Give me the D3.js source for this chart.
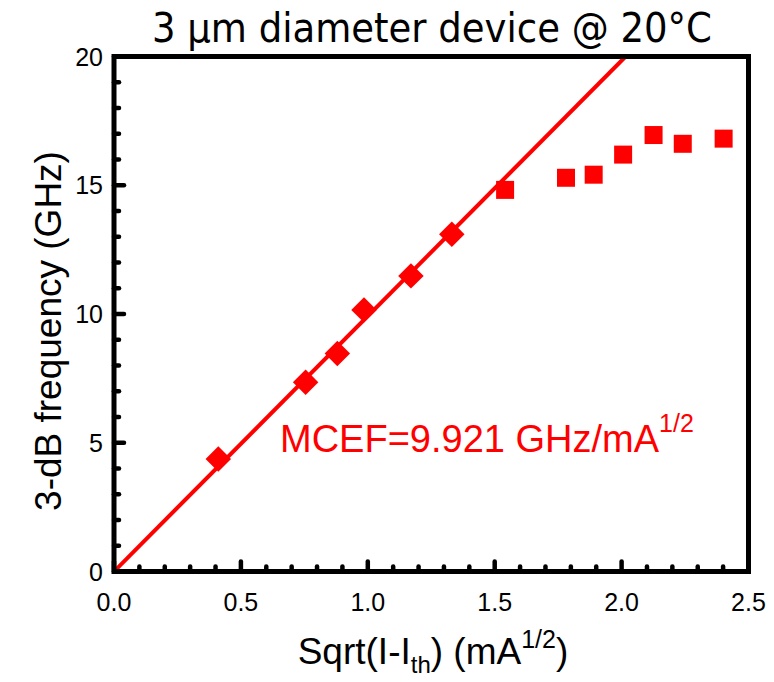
<!DOCTYPE html>
<html><head><meta charset="utf-8">
<script src="https://cdn.jsdelivr.net/npm/d3@7"></script>
<style>body{margin:0;background:#fff}svg{display:block}text{font-family:"Liberation Sans",Arial,sans-serif}</style>
</head><body>
<script>
const fitX = [0.411, 0.755, 0.880, 0.985, 1.170, 1.331];
const fitY = [4.37, 7.35, 8.47, 10.16, 11.48, 13.10];
const satX = [1.541, 1.781, 1.890, 2.006, 2.126, 2.241, 2.402];
const satY = [14.82, 15.29, 15.41, 16.19, 16.95, 16.61, 16.81];
const slope = 9.921;
const xTicks = [0.0, 0.5, 1.0, 1.5, 2.0, 2.5];
const yTicks = [0, 5, 10, 15, 20];
const titleText = "3 \u03bcm diameter device @ 20\u00b0C";

const W = 774, H = 682;
const L = 114, R = 748.5, T = 56.5, B = 571.5;
const svg = d3.select("body").append("svg").attr("width", W).attr("height", H);
const x = d3.scaleLinear().domain([0, 2.5]).range([L, R]);
const y = d3.scaleLinear().domain([0, 20]).range([B, T]);

svg.append("defs").append("clipPath").attr("id", "clip")
  .append("rect").attr("x", L).attr("y", T).attr("width", R - L).attr("height", B - T);

// minor/major ticks (inward)
const xMinor = d3.range(0, 26).map(i => i / 10);
const yMinor = d3.range(0, 21);
const tg = svg.append("g").attr("stroke", "#000").attr("stroke-width", 4.5).attr("stroke-linecap", "round");
xMinor.forEach(v => {
  const major = Math.abs(v * 2 - Math.round(v * 2)) < 1e-6;
  tg.append("line").attr("x1", x(v)).attr("x2", x(v)).attr("y1", B).attr("y2", B - (major ? 10 : 5));
});
yMinor.forEach(v => {
  const major = v % 5 === 0;
  tg.append("line").attr("y1", y(v)).attr("y2", y(v)).attr("x1", L).attr("x2", L + (major ? 10 : 5));
});

// fit line
svg.append("line").attr("clip-path", "url(#clip)")
  .attr("x1", x(0)).attr("y1", y(0)).attr("x2", x(20 / slope)).attr("y2", y(20))
  .attr("stroke", "#ff0000").attr("stroke-width", 4);

// diamonds
const sym = d3.symbol().type(d3.symbolSquare).size(18 * 18);
svg.append("g").selectAll("path").data(fitX).join("path")
  .attr("d", sym).attr("fill", "#ff0000")
  .attr("transform", (d, i) => `translate(${x(d)},${y(fitY[i])}) rotate(45)`);
// squares
svg.append("g").selectAll("path").data(satX).join("path")
  .attr("d", sym).attr("fill", "#ff0000")
  .attr("transform", (d, i) => `translate(${x(d)},${y(satY[i])})`);

// frame
svg.append("rect").attr("x", L).attr("y", T).attr("width", R - L).attr("height", B - T)
  .attr("fill", "none").attr("stroke", "#000").attr("stroke-width", 5);

// tick labels
svg.append("g").selectAll("text").data(xTicks).join("text")
  .attr("x", d => x(d)).attr("y", 611).attr("text-anchor", "middle")
  .attr("font-size", 25).text(d => d.toFixed(1));
svg.append("g").selectAll("text").data(yTicks).join("text")
  .attr("x", 103).attr("y", d => y(d) + 9).attr("text-anchor", "end")
  .attr("font-size", 25).text(d => d);

// title
svg.append("text").attr("x", 152).attr("y", 42).attr("font-size", 41)
  .style("font-family", "'Liberation Sans Narrow','DejaVu Sans Condensed',Arial,sans-serif")
  .attr("textLength", 560).attr("lengthAdjust", "spacingAndGlyphs").text(titleText);

// y label
svg.append("text").attr("transform", "translate(61,331) rotate(-90)")
  .attr("text-anchor", "middle").attr("font-size", 37).text("3-dB frequency (GHz)");

// x label
const xl = svg.append("text").attr("x", 433).attr("y", 664).attr("text-anchor", "middle").attr("font-size", 37);
xl.append("tspan").text("Sqrt(I-I");
xl.append("tspan").attr("font-size", 24).attr("dy", 9).text("th");
xl.append("tspan").attr("dy", -9).text(") (mA");
xl.append("tspan").attr("font-size", 25).attr("dy", -16).text("1/2");
xl.append("tspan").attr("dy", 16).text(")");

// annotation
const an = svg.append("text").attr("x", 280).attr("y", 452).attr("font-size", 38).attr("fill", "#ff0000");
an.append("tspan").text("MCEF=9.921 GHz/mA");
an.append("tspan").attr("font-size", 25).attr("dy", -20).text("1/2");
</script>
</body></html>
